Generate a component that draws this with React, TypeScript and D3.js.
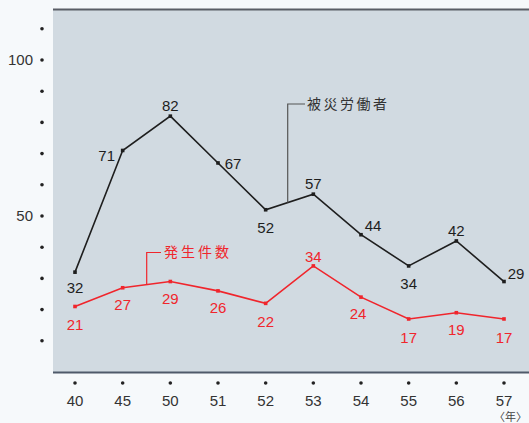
import React from "react";
import * as d3 from "d3";

// 年次（昭和）
const years = ["40", "45", "50", "51", "52", "53", "54", "55", "56", "57"];
// 被災労働者数
const victims = [32, 71, 82, 67, 52, 57, 44, 34, 42, 29];
// 発生件数
const incidents = [21, 27, 29, 26, 22, 34, 24, 17, 19, 17];
// 縦軸の目盛り
const yDots = [10, 20, 30, 40, 50, 60, 70, 80, 90, 100, 110];
const yLabels = [50, 100];

const W = 529;
const H = 423;
const FONT = "'Liberation Sans', 'DejaVu Sans', sans-serif";
const CJK = "'Noto Sans CJK JP', sans-serif";
const BLACK = "#1e1e1e";
const RED = "#f0252c";

// label offsets per point: [dx, dy]
const victimLabelPos: [number, number][] = [
  [0, 16],
  [-16, 5],
  [0, -10],
  [15, 1],
  [0, 18],
  [0, -10],
  [12, -9],
  [0, 18],
  [0, -10],
  [12, -8],
];
const incidentLabelPos: [number, number][] = [
  [0, 18],
  [0, 17],
  [0, 17],
  [0, 17],
  [0, 18],
  [0, -9],
  [-3, 17],
  [0, 19],
  [0, 17],
  [0, 19],
];

export default function App() {
  const x = d3.scalePoint<string>().domain(years).range([75, 504]);
  const y = d3.scaleLinear().domain([0, 100]).range([372, 60]);

  const line = d3
    .line<number>()
    .x((_, i) => x(years[i]) as number)
    .y((v) => y(v));

  // callout anchor points on the segments
  const vx = 287.7;
  const vLineY =
    y(52) +
    ((vx - (x("52") as number)) / ((x("53") as number) - (x("52") as number))) *
      (y(57) - y(52));
  const ix = 146.7;
  const iLineY =
    y(27) +
    ((ix - (x("45") as number)) / ((x("50") as number) - (x("45") as number))) *
      (y(29) - y(27));

  return (
    <svg
      width={W}
      height={H}
      style={{ position: "absolute", left: 0, top: 0, background: "#f6f9fb" }}
    >
      <rect x={53} y={9} width={W - 53} height={363} fill="#d1dae1" />
      <line x1={53} x2={W} y1={9.5} y2={9.5} stroke="#5a5e66" strokeWidth={2} />
      <line x1={53} x2={W} y1={372.5} y2={372.5} stroke="#4f5a6a" strokeWidth={2} />

      {yDots.map((v) => (
        <circle key={v} cx={42} cy={y(v)} r={1.8} fill="#222" />
      ))}
      {yLabels.map((v) => (
        <text
          key={v}
          x={33}
          y={y(v)}
          dy="0.35em"
          textAnchor="end"
          fontFamily={FONT}
          fontSize={15}
          fill="#333"
        >
          {v}
        </text>
      ))}

      {years.map((yr) => (
        <g key={yr}>
          <circle cx={x(yr)} cy={383} r={1.8} fill="#222" />
          <text
            x={x(yr)}
            y={401}
            dy="0.35em"
            textAnchor="middle"
            fontFamily={FONT}
            fontSize={15}
            fill="#333"
          >
            {yr}
          </text>
        </g>
      ))}
      <text x={494} y={421} fontFamily={CJK} fontSize={11} fill="#444">
        〈年〉
      </text>

      {/* 被災労働者 */}
      <path d={line(victims) ?? ""} fill="none" stroke={BLACK} strokeWidth={1.6} />
      {victims.map((v, i) => (
        <rect
          key={i}
          x={(x(years[i]) as number) - 1.8}
          y={y(v) - 1.8}
          width={3.6}
          height={3.6}
          fill={BLACK}
        />
      ))}
      {victims.map((v, i) => (
        <text
          key={i}
          x={(x(years[i]) as number) + victimLabelPos[i][0]}
          y={y(v) + victimLabelPos[i][1]}
          dy="0.35em"
          textAnchor="middle"
          fontFamily={FONT}
          fontSize={15}
          fill={BLACK}
        >
          {v}
        </text>
      ))}
      <path
        d={`M${vx},${vLineY} V104 H305`}
        fill="none"
        stroke="#555"
        strokeWidth={1.2}
      />
      <text
        x={307}
        y={104}
        dy="0.35em"
        fontFamily={CJK}
        fontSize={14}
        letterSpacing={2.5}
        fill="#333"
      >
        被災労働者
      </text>

      {/* 発生件数 */}
      <path d={line(incidents) ?? ""} fill="none" stroke={RED} strokeWidth={1.6} />
      {incidents.map((v, i) => (
        <rect
          key={i}
          x={(x(years[i]) as number) - 1.8}
          y={y(v) - 1.8}
          width={3.6}
          height={3.6}
          fill={RED}
        />
      ))}
      {incidents.map((v, i) => (
        <text
          key={i}
          x={(x(years[i]) as number) + incidentLabelPos[i][0]}
          y={y(v) + incidentLabelPos[i][1]}
          dy="0.35em"
          textAnchor="middle"
          fontFamily={FONT}
          fontSize={15}
          fill={RED}
        >
          {v}
        </text>
      ))}
      <path
        d={`M${ix},${iLineY} V252.5 H161`}
        fill="none"
        stroke={RED}
        strokeWidth={1.2}
      />
      <text
        x={164}
        y={252.5}
        dy="0.35em"
        fontFamily={CJK}
        fontSize={14}
        letterSpacing={3}
        fill={RED}
      >
        発生件数
      </text>
    </svg>
  );
}
